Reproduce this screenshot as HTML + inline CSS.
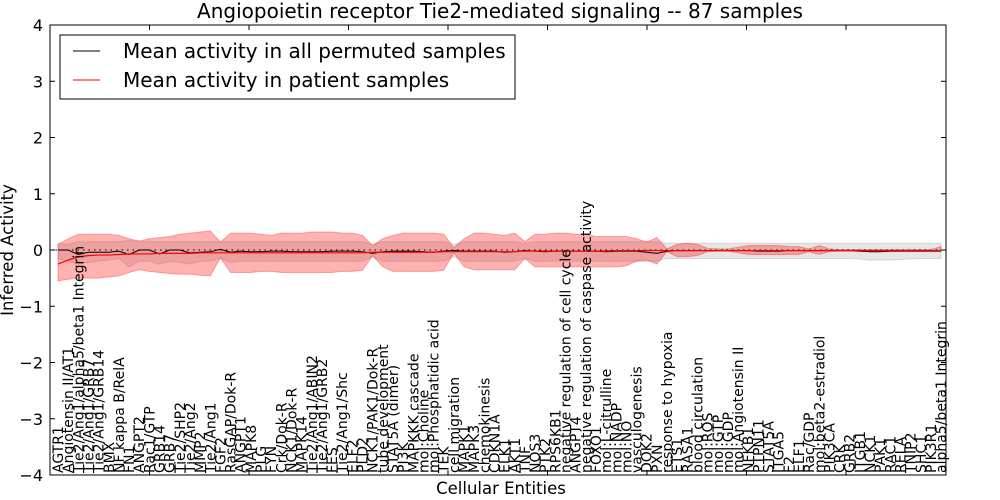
<!DOCTYPE html>
<html><head><meta charset="utf-8"><style>
body{margin:0;background:#fff;}
svg{display:block;font-family:"DejaVu Sans","Liberation Sans",sans-serif;}
</style></head><body>
<svg id="chart" width="1000" height="500" viewBox="0 0 1000 500" xmlns="http://www.w3.org/2000/svg"></svg>
<script>
const categories=["AGTR1","Angiotensin II/AT1","Tie2/Ang1/alpha5/beta1 Integrin","Tie2/Ang1/GRB7","Tie2/Ang1/GRB14","BMX","NF kappa B/RelA","FN1","ANGPT2","Rac1/GTP","GRB14","GRB7","Tie2/SHP2","Tie2/Ang2","MMP2","Tie2/Ang1","FGF2","RasGAP/Dok-R","ANGPT1","MAPK8","PLG","FYN","Crk/Dok-R","NCK1/Dok-R","MAPK14","Tie2/Ang1/ABIN2","Tie2/Ang1/GRB2","FES","Tie2/Ang1/Shc","ELF2","PLD2","NCK1/PAK1/Dok-R","tube development","STAT5A (dimer)","PI3K","MAPKKK cascade","mol:Choline","mol:Phosphatidic acid","TEK","cell migration","MAPK1","MAPK3","chemokinesis","CDKN1A","ELK1","AKT1","TNF","NOS3","PTK2","RPS6KB1","negative regulation of cell cycle","ANGPT4","negative regulation of caspase activity","FOXO1","mol:L-citrulline","mol:NADP","mol:NO","vasculogenesis","DOK2","PXN","response to hypoxia","ETS1","RASA1","blood circulation","mol:ROS","mol:GTP","mol:GDP","mol:Angiotensin II","NFKB1","PTPN11","STAT5A","ITGA5","F2","ELF1","Rac/GDP","mol:beta2-estradiol","PIK3CA","CRK","GRB2","ITGB1","NCK1","PAK1","RAC1","RELA","TNIP2","SHC1","PIK3R1","alpha5/beta1 Integrin"];
const patientMean=[-0.25,-0.18,-0.12,-0.1,-0.09,-0.09,-0.08,-0.07,-0.07,-0.07,-0.06,-0.06,-0.06,-0.06,-0.05,-0.05,-0.05,-0.05,-0.05,-0.05,-0.05,-0.05,-0.05,-0.05,-0.05,-0.05,-0.05,-0.05,-0.05,-0.05,-0.05,-0.04,-0.04,-0.04,-0.04,-0.04,-0.04,-0.04,-0.03,-0.03,-0.03,-0.03,-0.03,-0.03,-0.03,-0.03,-0.02,-0.02,-0.02,-0.02,-0.02,-0.02,-0.02,-0.02,-0.02,-0.01,-0.01,-0.01,-0.01,-0.01,-0.01,-0.01,-0.01,-0.01,-0.01,-0.01,-0.01,-0.01,-0.01,-0.01,-0.01,-0.01,-0.01,-0.01,-0.01,-0.01,-0.01,-0.01,-0.01,-0.01,-0.01,-0.01,-0.01,-0.01,-0.01,-0.01,-0.01,-0.01];
const patientHi=[0.1,0.2,0.28,0.28,0.28,0.28,0.26,0.2,0.16,0.2,0.22,0.24,0.28,0.3,0.32,0.34,0.14,0.3,0.3,0.3,0.28,0.26,0.3,0.3,0.3,0.32,0.32,0.32,0.3,0.3,0.26,0.08,0.2,0.26,0.3,0.3,0.3,0.3,0.28,0.04,0.2,0.3,0.3,0.28,0.26,0.3,0.15,0.28,0.28,0.3,0.3,0.28,0.28,0.24,0.24,0.24,0.24,0.2,0.14,0.22,0.02,0.1,0.12,0.1,0.03,0.02,0.02,0.05,0.08,0.08,0.08,0.08,0.06,0.06,0.02,0.08,0.02,0.01,0.01,0.01,0.01,0.01,0.01,0.01,0.01,0.01,0.01,0.06];
const patientLo=[-0.55,-0.52,-0.5,-0.5,-0.5,-0.48,-0.46,-0.4,-0.35,-0.38,-0.4,-0.42,-0.43,-0.43,-0.45,-0.46,-0.14,-0.4,-0.4,-0.4,-0.38,-0.38,-0.4,-0.4,-0.4,-0.4,-0.4,-0.4,-0.38,-0.38,-0.36,-0.1,-0.3,-0.38,-0.38,-0.38,-0.38,-0.38,-0.36,-0.05,-0.3,-0.35,-0.35,-0.35,-0.35,-0.35,-0.15,-0.3,-0.3,-0.3,-0.3,-0.3,-0.3,-0.3,-0.3,-0.3,-0.28,-0.2,-0.18,-0.25,-0.03,-0.12,-0.12,-0.1,-0.03,-0.02,-0.02,-0.05,-0.08,-0.08,-0.08,-0.08,-0.08,-0.08,-0.03,-0.08,-0.03,-0.02,-0.02,-0.02,-0.02,-0.02,-0.02,-0.02,-0.02,-0.02,-0.02,-0.02];
const permMean=[0,0,-0.08,-0.04,-0.04,-0.04,-0.02,-0.08,0,0,-0.07,0,0,-0.05,-0.04,-0.03,0.01,-0.04,-0.02,-0.03,-0.03,-0.02,-0.02,-0.03,-0.03,-0.03,-0.03,-0.02,-0.02,-0.02,-0.03,-0.06,-0.03,-0.02,-0.02,-0.02,-0.03,-0.04,-0.02,-0.01,-0.02,-0.02,-0.02,-0.02,-0.04,-0.03,-0.01,-0.02,-0.03,-0.02,-0.02,-0.02,-0.02,-0.02,-0.03,-0.02,-0.02,-0.02,-0.04,-0.06,-0.02,-0.01,-0.01,-0.01,-0.01,-0.01,-0.01,-0.01,-0.01,-0.02,-0.02,-0.02,-0.01,-0.01,-0.01,-0.01,-0.01,-0.01,-0.01,-0.02,-0.03,-0.03,-0.02,-0.02,-0.02,-0.02,-0.02,-0.02];
const permHi=[0.12,0.1,0.15,0.15,0.15,0.15,0.15,0.17,0.15,0.15,0.15,0.15,0.15,0.15,0.15,0.15,0.15,0.15,0.15,0.15,0.15,0.15,0.15,0.15,0.15,0.15,0.15,0.15,0.15,0.15,0.15,0.1,0.15,0.15,0.15,0.15,0.15,0.15,0.15,0.1,0.15,0.15,0.15,0.15,0.15,0.15,0.12,0.15,0.15,0.15,0.15,0.15,0.15,0.15,0.15,0.15,0.15,0.15,0.15,0.15,0.12,0.12,0.12,0.12,0.12,0.12,0.12,0.12,0.12,0.12,0.12,0.12,0.12,0.12,0.12,0.12,0.12,0.12,0.12,0.12,0.12,0.12,0.12,0.12,0.12,0.12,0.12,0.12];
const permLo=[-0.15,-0.2,-0.25,-0.22,-0.2,-0.18,-0.15,-0.3,-0.2,-0.2,-0.25,-0.2,-0.22,-0.25,-0.2,-0.2,-0.15,-0.22,-0.2,-0.2,-0.2,-0.2,-0.2,-0.2,-0.2,-0.2,-0.2,-0.2,-0.2,-0.2,-0.2,-0.12,-0.2,-0.2,-0.2,-0.2,-0.2,-0.2,-0.2,-0.12,-0.2,-0.2,-0.2,-0.2,-0.2,-0.2,-0.15,-0.2,-0.2,-0.2,-0.2,-0.2,-0.2,-0.2,-0.2,-0.2,-0.2,-0.2,-0.2,-0.2,-0.15,-0.15,-0.15,-0.15,-0.15,-0.15,-0.15,-0.15,-0.15,-0.15,-0.15,-0.15,-0.15,-0.15,-0.15,-0.15,-0.15,-0.15,-0.15,-0.16,-0.18,-0.18,-0.18,-0.17,-0.16,-0.15,-0.15,-0.15];
const yTicks=[4,3,2,1,0,-1,-2,-3,-4];
const titleText="Angiopoietin receptor Tie2-mediated signaling -- 87 samples";

const NS="http://www.w3.org/2000/svg";
const svg=document.getElementById('chart');
const L=50,R=946,T=25,B=475;
const xs=i=>58+i*10.15;
const ys=v=>250-v*56.25;
function mk(tag,attrs,parent){const e=document.createElementNS(NS,tag);for(const k in attrs)e.setAttribute(k,attrs[k]);(parent||svg).appendChild(e);return e;}
function band(hi,lo){let d='';hi.forEach((v,i)=>d+=(i?'L':'M')+xs(i)+','+ys(v));for(let i=lo.length-1;i>=0;i--)d+='L'+xs(i)+','+ys(lo[i]);return d+'Z';}
function line(arr){return arr.map((v,i)=>(i?'L':'M')+xs(i)+','+ys(v)).join('');}

const t=mk('text',{x:500,y:18,'text-anchor':'middle','font-size':20});
t.textContent=titleText;



const g1=mk('path',{d:band(permHi,permLo),fill:'rgba(128,128,128,0.2)',stroke:'rgba(128,128,128,0.25)'});


const g2=mk('path',{d:band(patientHi,patientLo),fill:'rgba(255,0,0,0.3)',stroke:'rgba(255,0,0,0.3)'});


const zl=mk('line',{x1:L,x2:R,y1:ys(0),y2:ys(0),stroke:'#000','stroke-dasharray':'1.5,4'});


const pl=mk('path',{d:line(permMean),fill:'none',stroke:'#000','stroke-width':1});


const rl=mk('path',{d:line(patientMean),fill:'none',stroke:'#f00','stroke-width':1.2});



const fr=mk('rect',{x:L,y:T,width:R-L,height:B-T,fill:'none',stroke:'#000'});



yTicks.forEach(v=>{
  const y=ys(v);
  mk('line',{x1:L,x2:L+5,y1:y,y2:y,stroke:'#000'});
  mk('line',{x1:R-5,x2:R,y1:y,y2:y,stroke:'#000'});
  const tx=mk('text',{x:L-7,y:y+6,'text-anchor':'end','font-size':16});
  tx.textContent=v<0?'\u2212'+(-v):String(v);
  
  
});
for(let k=1;k<9;k++){const x=L+k*99.5;mk('line',{x1:x,x2:x,y1:T,y2:T+5,stroke:'#000'});mk('line',{x1:x,x2:x,y1:B-5,y2:B,stroke:'#000'});}

categories.forEach((c,i)=>{
  const x=xs(i)+5;
  const tx=mk('text',{x:0,y:0,'font-size':14,transform:`translate(${x},473) rotate(-90)`});
  tx.textContent=c;
  
  
});

const yl=mk('text',{x:0,y:0,'font-size':16.5,'text-anchor':'middle',transform:'translate(13,250) rotate(-90)'});
yl.textContent='Inferred Activity';


const xl=mk('text',{x:501,y:494,'font-size':16.5,'text-anchor':'middle'});
xl.textContent='Cellular Entities';



const lg=mk('g',{});


mk('rect',{x:60,y:35,width:455,height:64,fill:'#fff',stroke:'#000'},lg);
mk('line',{x1:73,x2:100,y1:51,y2:51,stroke:'#000'},lg);
mk('line',{x1:73,x2:100,y1:80,y2:80,stroke:'#f00'},lg);
const l1=mk('text',{x:123,y:58,'font-size':20},lg);
l1.textContent='Mean activity in all permuted samples';


const l2=mk('text',{x:123,y:87,'font-size':20},lg);
l2.textContent='Mean activity in patient samples';


</script>
</body></html>
